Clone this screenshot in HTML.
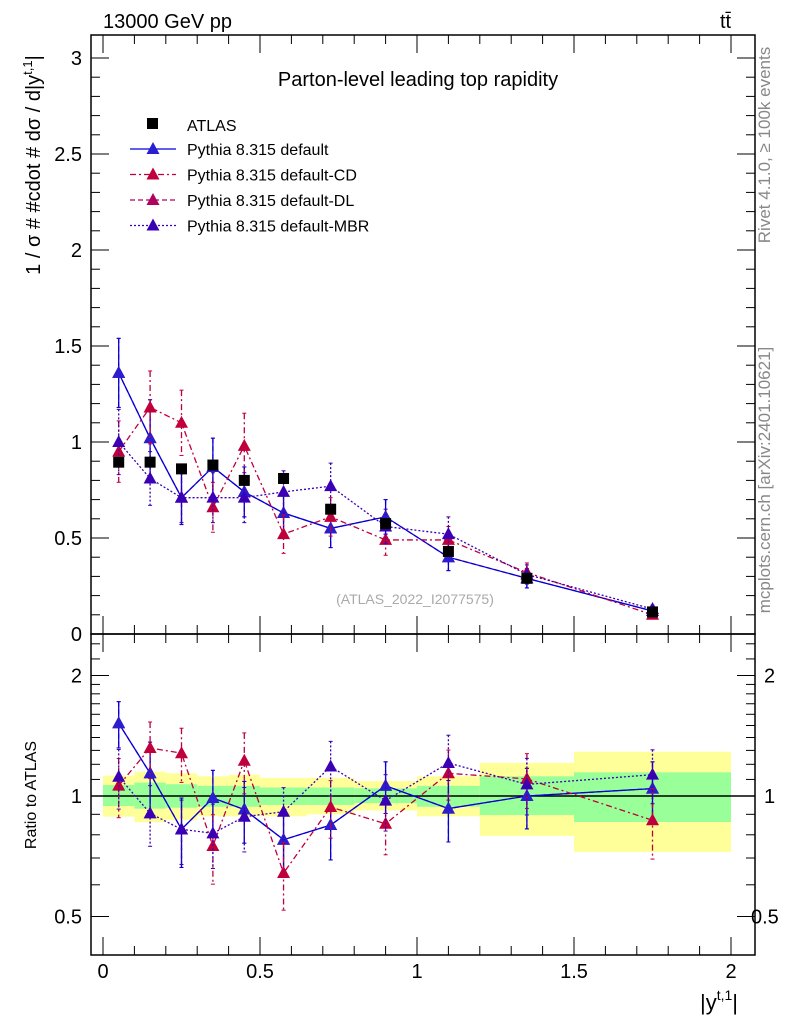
<!DOCTYPE html>
<html><head><meta charset="utf-8"><style>
body{margin:0;background:#fff}
svg{display:block;font-family:"Liberation Sans",sans-serif}
</style></head><body>
<svg id="c" width="786" height="1024" viewBox="0 0 786 1024">
<g id="bands"></g>
<g id="grid"></g>
<g id="marks"></g>
<rect x="91" y="35" width="664" height="599" fill="none" stroke="#000" stroke-width="1.5"/>
<rect x="91" y="634" width="664" height="321" fill="none" stroke="#000" stroke-width="1.5"/>
<text x="103" y="28" font-size="20">13000 GeV pp</text>
<text x="720" y="28" font-size="20">tt̄</text>
<text x="418" y="86" font-size="20" text-anchor="middle">Parton-level leading top rapidity</text>
<text x="415" y="604" font-size="14" fill="#aaa" text-anchor="middle">(ATLAS_2022_I2077575)</text>
<text transform="translate(770,145) rotate(-90)" font-size="17" fill="#888" text-anchor="middle">Rivet 4.1.0, ≥ 100k events</text>
<text transform="translate(770,480) rotate(-90)" font-size="17" fill="#888" text-anchor="middle">mcplots.cern.ch [arXiv:2401.10621]</text>
<text transform="translate(40,165) rotate(-90)" font-size="20" text-anchor="middle">1 / σ # #cdot # dσ / d|y<tspan dy="-8" font-size="13">t,1</tspan><tspan dy="8">|</tspan></text>
<text transform="translate(36,795) rotate(-90)" font-size="16" text-anchor="middle">Ratio to ATLAS</text>
<text x="700" y="1010" font-size="22">|y<tspan dy="-10" font-size="14">t,1</tspan><tspan dy="10">|</tspan></text>
<g id="legend"></g>
</svg>
<script>
const edges=[0,0.1,0.2,0.3,0.4,0.5,0.65,0.8,1.0,1.2,1.5,2.0];
const centers=[0.05,0.15,0.25,0.35,0.45,0.575,0.725,0.9,1.1,1.35,1.75];
const atlas=[0.895,0.895,0.86,0.88,0.80,0.81,0.65,0.575,0.43,0.29,0.115];
const yelUp=[1.124,1.15,1.14,1.12,1.13,1.11,1.11,1.09,1.12,1.21,1.29];
const yelDn=[0.888,0.86,0.87,0.89,0.89,0.89,0.90,0.92,0.89,0.795,0.725];
const grnUp=[1.065,1.08,1.07,1.06,1.06,1.05,1.05,1.045,1.06,1.12,1.146];
const grnDn=[0.944,0.93,0.935,0.94,0.94,0.95,0.95,0.96,0.94,0.896,0.861];
const defVals=[1.36,1.02,0.71,0.87,0.74,0.63,0.55,0.61,0.40,0.29,0.12];
const defErr=[0.18,0.20,0.14,0.15,0.13,0.10,0.10,0.09,0.07,0.05,0.02];
const cdVals=[0.95,1.18,1.10,0.66,0.98,0.52,0.61,0.49,0.49,0.32,0.10];
const cdErr=[0.16,0.19,0.17,0.13,0.17,0.10,0.10,0.08,0.07,0.05,0.02];
const dlVals=[1.36,1.02,0.71,0.87,0.74,0.63,0.55,0.61,0.40,0.29,0.12];
const dlErr=[0.18,0.20,0.14,0.15,0.13,0.10,0.10,0.09,0.07,0.05,0.02];
const mbrVals=[1.00,0.81,0.71,0.71,0.71,0.74,0.77,0.56,0.52,0.31,0.13];
const mbrErr=[0.17,0.14,0.13,0.13,0.13,0.11,0.12,0.09,0.09,0.05,0.02];
const mainTicks=["0","0.5","1","1.5","2","2.5","3"];
const xTicks=["0","0.5","1","1.5","2"];
const ratioTicks=["0.5","1","2"];

const NS="http://www.w3.org/2000/svg";
const X=v=>103+314*v;
const Y=v=>634-192*v;
const R=r=>796-120.5*Math.log2(r);
function el(t,a,p){const e=document.createElementNS(NS,t);for(const k in a)e.setAttribute(k,a[k]);(p||document.getElementById('marks')).appendChild(e);return e;}
const grid=document.getElementById('grid');
const bandG=document.getElementById('bands');
for(let i=0;i<centers.length;i++){
 const y=el('rect',{x:X(edges[i]),y:R(yelUp[i]),width:X(edges[i+1])-X(edges[i]),height:R(yelDn[i])-R(yelUp[i]),fill:'#ffff99'},bandG);
 
 
 const g=el('rect',{x:X(edges[i]),y:R(grnUp[i]),width:X(edges[i+1])-X(edges[i]),height:R(grnDn[i])-R(grnUp[i]),fill:'#99ff99'},bandG);
 
 
}
el('line',{x1:91,x2:755,y1:R(1),y2:R(1),stroke:'#000','stroke-width':1.5},grid);
for(let v=0;v<=3.01;v+=0.1){const maj=Math.abs(v*2-Math.round(v*2))<1e-6;const L=maj?18:9;
 el('line',{x1:91,x2:91+L,y1:Y(v),y2:Y(v),stroke:'#000'},grid);el('line',{x1:755,x2:755-L,y1:Y(v),y2:Y(v),stroke:'#000'},grid);}
mainTicks.forEach((t,i)=>{const e=el('text',{x:82,y:Y(parseFloat(t))+7,'font-size':20,'text-anchor':'end'},grid);e.textContent=t;
 
 });
for(let v=0;v<=2.05;v+=0.1){const maj=Math.abs(v*2-Math.round(v*2))<1e-6;const L=maj?18:9;
 el('line',{x1:X(v),x2:X(v),y1:955,y2:955-L,stroke:'#000'},grid);el('line',{x1:X(v),x2:X(v),y1:35,y2:35+L,stroke:'#000'},grid);
 el('line',{x1:X(v),x2:X(v),y1:634,y2:634-L,stroke:'#000'},grid);el('line',{x1:X(v),x2:X(v),y1:634,y2:634+L,stroke:'#000'},grid);}
xTicks.forEach(t=>{const e=el('text',{x:X(parseFloat(t)),y:978,'font-size':20,'text-anchor':'middle'},grid);e.textContent=t;
 
 });
[0.4,0.5,0.6,0.7,0.8,0.9,1,1.1,1.2,1.3,1.4,1.5,1.6,1.7,1.8,1.9,2,2.2,2.4].forEach(r=>{const y=R(r);if(y<636||y>953)return;const maj=[0.5,1,2].includes(r);const L=maj?18:9;
 el('line',{x1:91,x2:91+L,y1:y,y2:y,stroke:'#000'},grid);el('line',{x1:755,x2:755-L,y1:y,y2:y,stroke:'#000'},grid);});
ratioTicks.forEach(t=>{const r=parseFloat(t);
 const a=el('text',{x:82,y:R(r)+7,'font-size':20,'text-anchor':'end'},grid);a.textContent=t;
 
 
 const b=el('text',{x:r<1?751:764,y:R(r)+7,'font-size':20},grid);b.textContent=t;
 
 });
function tri(x,y,c,p){return el('polygon',{points:`${x},${y-7} ${x-6.5},${y+5} ${x+6.5},${y+5}`,fill:c},p);}
const series=[
 {n:'pythia-default-dl',v:dlVals,e:dlErr,c:'#b00060',m:'#b00060',d:'5,3',lbl:'Pythia 8.315 default-DL'},
 {n:'pythia-default',v:defVals,e:defErr,c:'#0000dd',m:'#2a1fd0',d:'none',lbl:'Pythia 8.315 default'},
 {n:'pythia-default-cd',v:cdVals,e:cdErr,c:'#c0003c',m:'#c0003c',d:'6,3,2,3',lbl:'Pythia 8.315 default-CD'},
 {n:'pythia-default-mbr',v:mbrVals,e:mbrErr,c:'#3c00b4',m:'#3c00b4',d:'2,2',lbl:'Pythia 8.315 default-MBR'}];
series.forEach(s=>{
 const g=el('g',{});
 
 
 const pm=[],pr=[];
 s.v.forEach((v,i)=>{pm.push(X(centers[i])+','+Y(v));pr.push(X(centers[i])+','+R(v/atlas[i]));});
 el('polyline',{points:pm.join(' '),fill:'none',stroke:s.c,'stroke-width':1.3,'stroke-dasharray':s.d},g);
 el('polyline',{points:pr.join(' '),fill:'none',stroke:s.c,'stroke-width':1.3,'stroke-dasharray':s.d},g);
 s.v.forEach((v,i)=>{const x=X(centers[i]);
  [[Y(v+s.e[i]),Y(v-s.e[i]),Y(v)],[R((v+s.e[i])/atlas[i]),R((v-s.e[i])/atlas[i]),R(v/atlas[i])]].forEach(([a,b,c])=>{
   el('line',{x1:x,x2:x,y1:a,y2:b,stroke:s.c,'stroke-width':1.3,'stroke-dasharray':s.d},g);
   el('line',{x1:x-2,x2:x+2,y1:a,y2:a,stroke:s.c},g);el('line',{x1:x-2,x2:x+2,y1:b,y2:b,stroke:s.c},g);
   const t=tri(x,c,s.m,g);
   
   });
 });
});
atlas.forEach((v,i)=>{const r=el('rect',{x:X(centers[i])-5.5,y:Y(v)-5.5,width:11,height:11,fill:'#000'});
 
 });
const lg=document.getElementById('legend');
el('rect',{x:147,y:118,width:11,height:11,fill:'#000'},lg);
const t0=el('text',{x:187,y:131,'font-size':16},lg);t0.textContent='ATLAS';


const legOrder=[1,2,0,3];
legOrder.forEach((k,i)=>{const s=series[k];const y=149+i*25.5;
 el('line',{x1:130,x2:176,y1:y,y2:y,stroke:s.c,'stroke-width':1.3,'stroke-dasharray':s.d},lg);
 tri(153,y,s.m,lg);
 const t=el('text',{x:187,y:y+6,'font-size':16},lg);t.textContent=s.lbl;
 
 });
</script>
</body></html>
